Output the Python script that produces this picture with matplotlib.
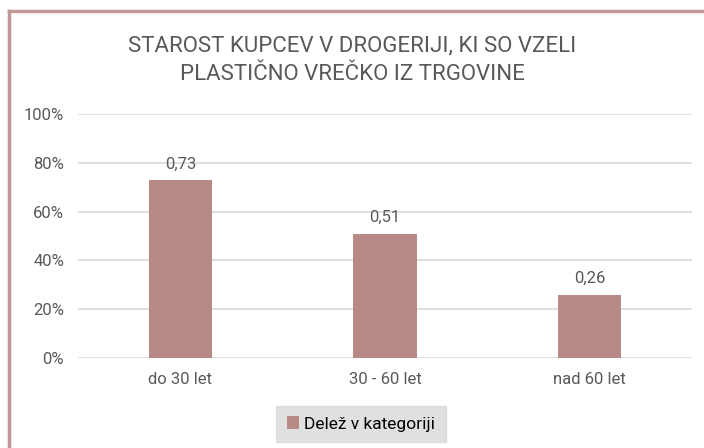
import matplotlib.pyplot as plt
from matplotlib.ticker import PercentFormatter

categories = ["do 30 let", "30 - 60 let", "nad 60 let"]
values = [0.73, 0.51, 0.26]
labels = ["0,73", "0,51", "0,26"]
series_name = "Delež v kategoriji"
title = "STAROST KUPCEV V DROGERIJI, KI SO VZELI\nPLASTIČNO VREČKO IZ TRGOVINE"

bar_color = "#b78987"
text_color = "#595959"
border_color = "#c29797"

plt.rcParams['font.family'] = ['Roboto', 'DejaVu Sans']

fig = plt.figure(figsize=(7.04, 4.48), dpi=100)
ax = fig.add_axes([78 / 704, 1 - 358 / 448, (692 - 78) / 704, (358 - 114) / 448])

x = range(len(categories))
ax.bar(x, values, width=0.31, color=bar_color, label=series_name, zorder=2)
for i, v in enumerate(values):
    ax.text(i, v + 0.035, labels[i], ha='center', va='bottom', fontsize=12, color=text_color)

ax.set_ylim(0, 1)
ax.set_xlim(-0.5, 2.5)
ax.set_yticks([0, 0.2, 0.4, 0.6, 0.8, 1.0])
ax.yaxis.set_major_formatter(PercentFormatter(1.0, decimals=0))
ax.set_xticks(list(x))
ax.set_xticklabels(categories)
ax.tick_params(axis='both', length=0, labelsize=12, labelcolor=text_color)
ax.tick_params(axis='y', pad=10)
ax.tick_params(axis='x', pad=10)
ax.grid(axis='y', color='#d9d9d9', linewidth=1.2, zorder=0)
for s in ax.spines.values():
    s.set_visible(False)

fig.text(0.5, 1 - 60 / 448, title, ha='center', va='center', fontsize=16,
         color=text_color, linespacing=1.45)

# legend with gray background
leg = fig.legend(loc='center', bbox_to_anchor=(361 / 704, 1 - 424 / 448), frameon=True,
                 fontsize=12.5, handlelength=0.7, handleheight=0.7, handletextpad=0.3,
                 borderpad=0.6, fancybox=False)
leg.get_frame().set_facecolor('#d9d9d9')
leg.get_frame().set_edgecolor('#d9d9d9')
for t in leg.get_texts():
    t.set_color('black')

# outer border (top and left)
fig.add_artist(plt.Line2D([9 / 704, 9 / 704], [0, 1 - 11 / 448], color=border_color, linewidth=2.5))
fig.add_artist(plt.Line2D([9 / 704, 1], [1 - 11 / 448, 1 - 11 / 448], color=border_color, linewidth=2.5))

fig.savefig("out.png", dpi=100)
